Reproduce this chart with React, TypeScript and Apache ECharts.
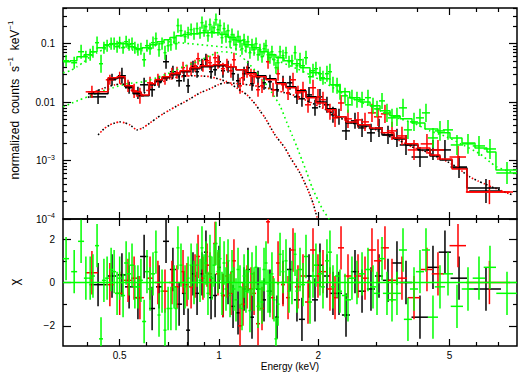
import React, { useEffect, useRef } from 'react';
import * as echarts from 'echarts';

// ---------- axis ranges & ticks ----------
const E_MIN = 0.3367;
const E_MAX = 8.0;
const FLUX_MIN = 1e-4;
const FLUX_MAX = 0.408;
const CHI_MIN = -2.93;
const CHI_MAX = 2.93;

const xMajorTicks = [0.5, 1, 2, 5];
const xMinorTicks = [0.4, 0.6, 0.7, 0.8, 0.9, 3, 4, 6, 7];
const fluxMajorTicks = [1e-4, 1e-3, 0.01, 0.1];
const fluxMinorTicks = [2e-4, 3e-4, 4e-4, 5e-4, 6e-4, 7e-4, 8e-4, 9e-4, 2e-3, 3e-3, 4e-3, 5e-3, 6e-3, 7e-3, 8e-3, 9e-3, 0.02, 0.03, 0.04, 0.05, 0.06, 0.07, 0.08, 0.09, 0.2, 0.3, 0.4];
const chiMajorTicks = [-2, 0, 2];
const chiMinorTicks = [-1, 1];

// ---------- green data set (pn) ----------
const pnE = [0.344, 0.364, 0.382, 0.395, 0.407, 0.415, 0.427, 0.439, 0.448, 0.458,
  0.471, 0.481, 0.491, 0.5, 0.512, 0.523, 0.534, 0.545, 0.556, 0.568,
  0.58, 0.593, 0.605, 0.618, 0.631, 0.644, 0.658, 0.672, 0.686, 0.701,
  0.715, 0.731, 0.741, 0.751, 0.767, 0.789, 0.806, 0.823, 0.84, 0.858,
  0.876, 0.888, 0.901, 0.913, 0.926, 0.939, 0.952, 0.966, 0.979, 0.993,
  1.007, 1.021, 1.036, 1.05, 1.065, 1.08, 1.095, 1.11, 1.126, 1.142,
  1.158, 1.174, 1.191, 1.207, 1.224, 1.241, 1.259, 1.277, 1.295, 1.313,
  1.331, 1.35, 1.369, 1.388, 1.408, 1.427, 1.447, 1.468, 1.488, 1.51,
  1.531, 1.563, 1.596, 1.63, 1.664, 1.7, 1.723, 1.76, 1.797, 1.835,
  1.887, 1.927, 1.967, 2.023, 2.066, 2.124, 2.169, 2.215, 2.279, 2.326,
  2.409, 2.46, 2.529, 2.619, 2.713, 2.828, 2.929, 3.012, 3.119, 3.229,
  3.344, 3.462, 3.611, 3.738, 3.899, 4.065, 4.239, 4.451, 4.674, 4.943,
  5.263, 5.683, 6.136, 6.625, 7.461];
const pnDE = [0.0072, 0.0076, 0.008, 0.0055, 0.0057, 0.0058, 0.006, 0.0061, 0.0063, 0.0064,
  0.0066, 0.0067, 0.0069, 0.007, 0.0072, 0.0073, 0.0075, 0.0076, 0.0078, 0.008,
  0.0081, 0.0083, 0.0085, 0.0087, 0.0088, 0.0068, 0.0069, 0.0071, 0.0072, 0.0074,
  0.0075, 0.0077, 0.0078, 0.0079, 0.0081, 0.0083, 0.0085, 0.0086, 0.0088, 0.009,
  0.0092, 0.0093, 0.0095, 0.0096, 0.0097, 0.0099, 0.01, 0.0101, 0.0103, 0.0104,
  0.0106, 0.0107, 0.0109, 0.011, 0.0112, 0.0113, 0.0115, 0.0117, 0.0118, 0.012,
  0.0122, 0.0123, 0.0125, 0.0127, 0.0129, 0.013, 0.0132, 0.0134, 0.0136, 0.0138,
  0.014, 0.0142, 0.0144, 0.0146, 0.0148, 0.015, 0.0152, 0.0154, 0.0156, 0.0159,
  0.0161, 0.0164, 0.0168, 0.0171, 0.0175, 0.0178, 0.0181, 0.0246, 0.0252, 0.0257,
  0.0264, 0.027, 0.0275, 0.0283, 0.0289, 0.0297, 0.0304, 0.031, 0.0319, 0.0326,
  0.0506, 0.0517, 0.0531, 0.055, 0.057, 0.0594, 0.0615, 0.0633, 0.0655, 0.0904,
  0.0936, 0.0969, 0.101, 0.105, 0.109, 0.114, 0.119, 0.158, 0.166, 0.175,
  0.225, 0.243, 0.263, 0.284, 0.537];
const pnFlux = [0.0511, 0.0472, 0.0729, 0.0598, 0.0648, 0.0729, 0.104, 0.0454, 0.0854, 0.0924,
  0.1, 0.1, 0.0888, 0.104, 0.0854, 0.108, 0.0961, 0.1, 0.0854, 0.0789,
  0.0821, 0.0531, 0.0924, 0.0821, 0.104, 0.122, 0.0789, 0.1, 0.0701, 0.0924,
  0.0961, 0.127, 0.1, 0.204, 0.167, 0.132, 0.154, 0.174, 0.148, 0.181,
  0.154, 0.229, 0.167, 0.196, 0.137, 0.212, 0.161, 0.188, 0.258, 0.174,
  0.204, 0.127, 0.181, 0.132, 0.167, 0.108, 0.143, 0.117, 0.0961, 0.132,
  0.108, 0.0821, 0.117, 0.0888, 0.108, 0.0701, 0.0961, 0.0789, 0.1, 0.0648,
  0.0789, 0.0598, 0.0821, 0.0924, 0.0648, 0.0575, 0.0729, 0.0531, 0.0388, 0.0472,
  0.0729, 0.0623, 0.0701, 0.0491, 0.0511, 0.0701, 0.0419, 0.0531, 0.0419, 0.0575,
  0.0272, 0.0344, 0.0373, 0.0306, 0.0261, 0.0306, 0.0331, 0.0198, 0.019, 0.015,
  0.0128, 0.009, 0.0119, 0.011, 0.011, 0.0119, 0.00864, 0.00767, 0.0105, 0.00655,
  0.00538, 0.00559, 0.00798, 0.00335, 0.00459, 0.00538, 0.00655, 0.00244, 0.00322, 0.00335,
  0.00185, 0.00193, 0.00178, 0.00158, 0.000613];
const pnRelErr = [0.27, 0.27, 0.32, 0.27, 0.27, 0.27, 0.27, 0.43, 0.27, 0.27,
  0.27, 0.27, 0.27, 0.27, 0.27, 0.27, 0.27, 0.27, 0.27, 0.27,
  0.27, 0.32, 0.27, 0.27, 0.27, 0.27, 0.32, 0.27, 0.32, 0.27,
  0.27, 0.27, 0.27, 0.32, 0.27, 0.27, 0.27, 0.27, 0.27, 0.27,
  0.27, 0.27, 0.27, 0.27, 0.27, 0.27, 0.27, 0.27, 0.27, 0.27,
  0.27, 0.27, 0.27, 0.27, 0.27, 0.27, 0.27, 0.27, 0.27, 0.27,
  0.27, 0.27, 0.27, 0.27, 0.27, 0.27, 0.27, 0.27, 0.27, 0.27,
  0.27, 0.27, 0.27, 0.27, 0.27, 0.27, 0.27, 0.27, 0.27, 0.32,
  0.27, 0.27, 0.27, 0.27, 0.27, 0.32, 0.32, 0.32, 0.32, 0.32,
  0.32, 0.32, 0.32, 0.32, 0.32, 0.37, 0.37, 0.37, 0.37, 0.37,
  0.37, 0.37, 0.37, 0.37, 0.37, 0.37, 0.37, 0.37, 0.37, 0.43,
  0.43, 0.43, 0.43, 0.43, 0.43, 0.43, 0.43, 0.48, 0.48, 0.48,
  0.48, 0.48, 0.48, 0.48, 0.54];
const pnChi = [1.1, 0.5, 1.9, 0.2, 0.2, 0.3, 1.7, -2.6, 0.1, 0.2,
  0.6, 0.5, -0.5, 0.2, -0.6, 0.9, 0.4, 0.8, -0.2, -0.2,
  0.1, -1.8, 0.5, -0.3, 0.4, 1.4, -1.5, -0.4, -2.2, -1.2,
  -1.2, -0.2, -1.2, 1.6, 0.8, -0.2, 0.2, 0.8, 0.0, 0.8,
  0.1, 1.6, 0.3, 0.9, -0.5, 1.2, 0.2, 0.8, 1.8, 0.5,
  1.1, -0.5, 0.9, -0.3, 1.0, -0.6, 0.5, -0.3, -0.8, 0.6,
  -0.2, -1.2, 0.3, -0.4, 0.5, -1.3, 0.4, -0.3, 0.7, -1.1,
  -0.3, -0.9, 0.6, 0.9, -0.4, -0.6, 0.4, -0.8, -2.6, -1.0,
  1.3, 0.5, 1.0, -0.4, 0.0, 1.3, -0.4, 0.6, -0.1, 1.2,
  -0.9, 0.3, 0.8, 0.4, -0.2, 1.0, 1.4, -0.2, 0.3, -0.4,
  -0.6, -0.8, 0.2, 0.0, 0.4, 0.6, -0.2, -0.5, 1.1, -0.5,
  -0.8, -0.5, 1.5, -1.7, -0.3, 0.5, 1.5, -1.6, -0.2, 0.4,
  -1.1, -0.3, 0.2, 0.7, -0.5];
const pnModelEdges = [0.337, 0.354, 0.371, 0.39, 0.407, 0.427, 0.448, 0.474, 0.5, 0.53,
  0.556, 0.584, 0.618, 0.649, 0.681, 0.71, 0.741, 0.778, 0.817, 0.876,
  0.939, 1.007, 1.065, 1.126, 1.191, 1.259, 1.331, 1.408, 1.488, 1.574,
  1.664, 1.76, 1.887, 2.023, 2.169, 2.326, 2.49, 2.675, 2.869, 3.076,
  3.298, 3.536, 3.845, 4.209, 4.609, 5.012, 5.45, 5.967, 6.488, 6.908, 8.0];
const pnModel = [0.0491, 0.0511, 0.0598, 0.0648, 0.0729, 0.0854, 0.0961, 0.1, 0.1, 0.0888,
  0.0821, 0.0854, 0.0961, 0.108, 0.117, 0.127, 0.137, 0.143, 0.148, 0.154,
  0.154, 0.143, 0.127, 0.113, 0.0961, 0.0854, 0.0729, 0.0648, 0.0575, 0.0511,
  0.0454, 0.0388, 0.0318, 0.0251, 0.0198, 0.015, 0.0119, 0.01, 0.00864, 0.0071,
  0.00582, 0.00517, 0.00441, 0.00348, 0.00298, 0.00244, 0.002, 0.00164, 0.0014, 0.00069];
const pnHardE = [0.337, 0.354, 0.371, 0.39, 0.407, 0.427, 0.445, 0.467, 0.491, 0.508,
  0.526, 0.545, 0.564, 0.584, 0.605, 0.627, 0.649, 0.677, 0.71, 0.762,
  0.817, 0.876, 0.939, 1.007, 1.08, 1.158, 1.241, 1.359, 1.531, 1.723,
  2.023, 2.326, 2.547, 2.809, 3.076, 3.462, 3.872, 4.359, 4.909, 5.488,
  6.179, 6.625, 6.956, 7.356, 8.0];
const pnHard = [0.0318, 0.0344, 0.0403, 0.0491, 0.0598, 0.0701, 0.0789, 0.0888, 0.0924, 0.0888,
  0.0854, 0.0789, 0.0729, 0.0759, 0.0789, 0.0854, 0.0961, 0.104, 0.108, 0.104,
  0.1, 0.0961, 0.0924, 0.0888, 0.0854, 0.0789, 0.0729, 0.0623, 0.0491, 0.0373,
  0.0241, 0.015, 0.0114, 0.00901, 0.0071, 0.00538, 0.00441, 0.00322, 0.00254, 0.00185,
  0.0013, 0.000946, 0.000776, 0.00069, 0.000589];
const pnSoftE = [0.337, 0.354, 0.379, 0.407, 0.436, 0.477, 0.526, 0.589, 0.649, 0.71,
  0.778, 0.858, 0.939, 1.021, 1.095, 1.158, 1.216, 1.313, 1.379, 1.447,
  1.531, 1.607, 1.664, 1.723, 1.784, 1.848, 1.913, 1.995, 2.066, 2.154, 2.247];
const pnSoft = [0.0083, 0.00935, 0.011, 0.0128, 0.015, 0.0176, 0.0206, 0.0223, 0.0261, 0.0318,
  0.0403, 0.0491, 0.0623, 0.0729, 0.0701, 0.0623, 0.0491, 0.0306, 0.0214, 0.0144,
  0.00864, 0.00441, 0.00275, 0.00171, 0.00102, 0.000613, 0.000352, 0.000211, 0.000142, 0.0001, 0.0000596];

// ---------- black data set (MOS1) ----------
const mos1E = [0.43, 0.474, 0.508, 0.534, 0.568, 0.593, 0.627, 0.658, 0.691, 0.725,
  0.757, 0.783, 0.806, 0.834, 0.858, 0.888, 0.913, 0.946, 0.973, 1.0,
  1.028, 1.065, 1.103, 1.142, 1.191, 1.224, 1.259, 1.313, 1.369, 1.427,
  1.499, 1.563, 1.641, 1.723, 1.784, 1.874, 1.954, 2.023, 2.124, 2.215,
  2.31, 2.426, 2.583, 2.713, 2.888, 3.054, 3.252, 3.462, 3.687, 4.065,
  4.451, 4.839, 5.338, 6.443];
const mos1DE = [0.0247, 0.0133, 0.0142, 0.015, 0.0159, 0.0166, 0.0132, 0.0138, 0.0145, 0.0152,
  0.0159, 0.011, 0.0113, 0.0117, 0.012, 0.0124, 0.0128, 0.0132, 0.0136, 0.014,
  0.0144, 0.0149, 0.0154, 0.016, 0.0167, 0.0171, 0.0176, 0.0184, 0.0192, 0.02,
  0.021, 0.0219, 0.0345, 0.0362, 0.0375, 0.0394, 0.041, 0.0425, 0.0446, 0.0465,
  0.0485, 0.0679, 0.0723, 0.076, 0.0809, 0.0855, 0.115, 0.123, 0.158, 0.233,
  0.19, 0.207, 0.306, 0.71];
const mos1Flux = [0.0123, 0.0241, 0.0283, 0.0176, 0.0144, 0.0198, 0.0163, 0.0223, 0.0491, 0.0331,
  0.0232, 0.0283, 0.019, 0.0403, 0.0331, 0.0436, 0.0531, 0.0331, 0.0358, 0.0491,
  0.0344, 0.0403, 0.0306, 0.0232, 0.0306, 0.0388, 0.0206, 0.0261, 0.0214, 0.0223,
  0.0163, 0.0214, 0.0214, 0.0123, 0.0114, 0.0133, 0.00798, 0.0123, 0.009, 0.00606,
  0.0056, 0.00322, 0.00478, 0.00362, 0.00298, 0.00362, 0.00275, 0.00244, 0.00185, 0.00115,
  0.00152, 0.00152, 0.000776, 0.000301];
const mos1RelErr = [0.32, 0.27, 0.37, 0.27, 0.27, 0.32, 0.32, 0.27, 0.32, 0.27,
  0.27, 0.27, 0.32, 0.27, 0.27, 0.27, 0.27, 0.32, 0.27, 0.27,
  0.32, 0.27, 0.32, 0.32, 0.32, 0.32, 0.32, 0.32, 0.32, 0.32,
  0.32, 0.32, 0.32, 0.32, 0.37, 0.37, 0.37, 0.37, 0.37, 0.37,
  0.37, 0.43, 0.37, 0.43, 0.43, 0.43, 0.43, 0.43, 0.48, 0.48,
  0.48, 0.48, 0.54, 0.61];
const mos1Chi = [-0.1, 0.3, 0.35, -0.2, -0.7, 1.2, -1.2, -0.2, 1.9, 0.6,
  -1.0, -0.5, -2.2, 0.4, -0.5, 0.4, 1.4, -0.7, -0.6, 0.7,
  -0.6, 0.0, -1.1, -1.4, -0.3, 0.6, -1.6, -0.3, -0.8, -0.4,
  -1.6, 0.0, 0.6, -0.8, -1.7, 0.3, -0.8, 0.8, 0.3, -0.5,
  -0.5, -1.5, 0.5, -0.4, -0.3, 0.3, 0.1, 0.9, 0.0, -1.6,
  0.7, 1.4, 0.2, -0.3];
const mos1ModelEdges = [0.401, 0.461, 0.491, 0.519, 0.549, 0.58, 0.614, 0.64, 0.672, 0.71,
  0.762, 0.817, 0.876, 0.959, 1.05, 1.126, 1.207, 1.295, 1.388, 1.488,
  1.596, 1.711, 1.835, 1.967, 2.11, 2.262, 2.426, 2.638, 2.869, 3.119,
  3.391, 3.687, 4.009, 4.359, 4.674, 5.083, 5.643, 7.104];
const mos1Model = [0.0139, 0.0251, 0.0261, 0.0183, 0.0139, 0.0128, 0.0198, 0.0232, 0.0261, 0.0294,
  0.0331, 0.0373, 0.0403, 0.0419, 0.0403, 0.0358, 0.0318, 0.0283, 0.0251, 0.0214,
  0.0183, 0.0156, 0.0123, 0.01, 0.00768, 0.0056, 0.0044, 0.00392, 0.00348, 0.00275,
  0.00235, 0.00185, 0.00152, 0.0012, 0.00102, 0.000747, 0.000339];

// ---------- red data set (MOS2) ----------
const mos2E = [0.412, 0.467, 0.5, 0.53, 0.553, 0.576, 0.618, 0.653, 0.686, 0.72,
  0.746, 0.778, 0.8, 0.823, 0.846, 0.864, 0.894, 0.92, 0.939, 0.973,
  0.993, 1.028, 1.057, 1.087, 1.11, 1.158, 1.182, 1.216, 1.25, 1.277,
  1.313, 1.35, 1.408, 1.458, 1.51, 1.563, 1.619, 1.676, 1.735, 1.797,
  1.861, 1.927, 1.995, 2.066, 2.169, 2.247, 2.343, 2.46, 2.638, 2.77,
  2.908, 3.033, 3.184, 3.344, 3.585, 3.899, 4.268, 4.609, 5.3, 6.6];
const mos2DE = [0.0176, 0.0131, 0.014, 0.0148, 0.0116, 0.0161, 0.013, 0.0137, 0.0144, 0.0151,
  0.0104, 0.0109, 0.0112, 0.0115, 0.0118, 0.0121, 0.0125, 0.0129, 0.0131, 0.0136,
  0.0139, 0.0144, 0.0148, 0.0152, 0.0155, 0.0162, 0.0165, 0.017, 0.0175, 0.0179,
  0.0184, 0.0189, 0.0197, 0.0204, 0.0211, 0.0219, 0.0227, 0.0352, 0.0364, 0.0377,
  0.0391, 0.0405, 0.0419, 0.0434, 0.0455, 0.0472, 0.0492, 0.0689, 0.0739, 0.0776,
  0.0814, 0.0849, 0.0892, 0.119, 0.127, 0.167, 0.183, 0.197, 0.304, 1.0];
const mos2Flux = [0.015, 0.0241, 0.0261, 0.019, 0.0156, 0.0128, 0.0214, 0.0241, 0.0251, 0.0306,
  0.0318, 0.0388, 0.0344, 0.0373, 0.0419, 0.0553, 0.0419, 0.0511, 0.0472, 0.0575,
  0.0491, 0.0373, 0.0436, 0.0344, 0.0531, 0.019, 0.0261, 0.0331, 0.0283, 0.0272,
  0.0163, 0.019, 0.0491, 0.0163, 0.0306, 0.0198, 0.0144, 0.0241, 0.0144, 0.0163,
  0.009, 0.0176, 0.0123, 0.011, 0.00682, 0.00538, 0.00967, 0.00517, 0.00497, 0.00459,
  0.00655, 0.0056, 0.0063, 0.00322, 0.00264, 0.00152, 0.00193, 0.00152, 0.00115, 0.000289];
const mos2RelErr = [0.27, 0.22, 0.27, 0.27, 0.32, 0.37, 0.27, 0.27, 0.27, 0.27,
  0.27, 0.27, 0.27, 0.32, 0.27, 0.27, 0.27, 0.27, 0.32, 0.27,
  0.32, 0.27, 0.27, 0.32, 0.32, 0.37, 0.32, 0.27, 0.32, 0.32,
  0.32, 0.32, 0.32, 0.32, 0.32, 0.32, 0.32, 0.32, 0.32, 0.37,
  0.37, 0.37, 0.37, 0.37, 0.37, 0.43, 0.37, 0.43, 0.37, 0.43,
  0.43, 0.43, 0.43, 0.43, 0.43, 0.48, 0.48, 0.48, 0.54, 0.61];
const mos2Chi = [0.45, -0.1, -0.5, 0.1, 0.2, -0.7, 0.2, 0.0, -0.4, 0.0,
  -0.2, 0.5, -0.1, -0.2, 0.3, 1.2, 0.2, 0.8, 0.4, 1.8,
  0.4, -0.6, 0.3, -0.5, 1.0, -2.0, -1.0, -0.2, -0.3, -0.5,
  -1.9, -1.2, 2.8, -0.7, 0.9, -0.1, -0.7, 1.5, -0.2, 0.3,
  -0.9, 1.5, 0.3, 0.5, -0.3, -0.7, 1.6, 0.3, 0.3, 0.2,
  1.5, 1.0, 1.6, 0.1, 0.2, -0.7, 0.6, 0.4, 1.7, 0.0];
const mos2ModelEdges = [0.401, 0.461, 0.491, 0.519, 0.549, 0.58, 0.614, 0.64, 0.672, 0.71,
  0.762, 0.817, 0.876, 0.959, 1.05, 1.126, 1.207, 1.295, 1.388, 1.488,
  1.596, 1.711, 1.835, 1.967, 2.11, 2.262, 2.426, 2.638, 2.869, 3.119,
  3.391, 3.687, 4.009, 4.359, 4.674, 5.083, 5.643, 7.78];
const mos2Model = [0.015, 0.0261, 0.0272, 0.019, 0.015, 0.0133, 0.0206, 0.0241, 0.0272, 0.0306,
  0.0344, 0.0388, 0.0419, 0.0436, 0.0403, 0.0358, 0.0306, 0.0272, 0.0241, 0.0206,
  0.0176, 0.015, 0.0119, 0.0097, 0.00738, 0.0056, 0.00459, 0.0041, 0.00362, 0.00298,
  0.00244, 0.00193, 0.00164, 0.00125, 0.00106, 0.00072, 0.000289];

// ---------- MOS model components (dotted) ----------
const mosSoftE = [0.401, 0.421, 0.451, 0.484, 0.508, 0.537, 0.576, 0.618, 0.663, 0.71,
  0.762, 0.834, 0.939, 1.057, 1.166, 1.216, 1.286, 1.331, 1.379, 1.478,
  1.585, 1.641, 1.76, 1.861, 1.927, 1.982, 2.051];
const mosSoft = [0.0119, 0.015, 0.0176, 0.0198, 0.0206, 0.0169, 0.0128, 0.0176, 0.0214, 0.0251,
  0.0272, 0.0283, 0.0272, 0.0223, 0.0156, 0.0133, 0.00935, 0.0071, 0.00538, 0.00275,
  0.00164, 0.00115, 0.000613, 0.000313, 0.000187, 0.000108, 0.0000645];
const mosHardE = [0.43, 0.448, 0.467, 0.484, 0.5, 0.519, 0.537, 0.564, 0.588, 0.618,
  0.649, 0.677, 0.71, 0.746, 0.778, 0.817, 0.876, 0.939, 0.993, 1.043,
  1.158, 1.286, 1.427, 1.585, 1.711, 1.887, 2.11, 2.326, 2.529, 2.751,
  2.99, 3.252, 3.536, 3.845, 4.18, 4.513, 4.875, 5.19, 5.49, 5.762,
  6.093, 6.4, 6.72, 7.104, 7.461, 7.78];
const mosHard = [0.00275, 0.00348, 0.00408, 0.00441, 0.00459, 0.00441, 0.00408, 0.00335, 0.00362, 0.00441,
  0.00538, 0.0063, 0.00738, 0.00864, 0.00973, 0.0114, 0.0144, 0.0169, 0.0198, 0.0214,
  0.0206, 0.019, 0.0169, 0.0144, 0.0128, 0.01, 0.00738, 0.00538, 0.00441, 0.00392,
  0.00335, 0.00264, 0.00217, 0.00171, 0.00146, 0.0012, 0.000984, 0.000808, 0.000637, 0.000523,
  0.000447, 0.000397, 0.000352, 0.000313, 0.000278, 0.000257];

// ---------- styling ----------
const BLACK = '#000000';
const RED = '#ff0000';
const GREEN = '#00ff00';
const FONT = '"Liberation Sans", Arial, Helvetica, sans-serif';

const L10 = (v: number) => Math.log10(v);
const X_LO = L10(E_MIN);
const X_HI = L10(E_MAX);
const Y_LO = L10(FLUX_MIN);
const Y_HI = L10(FLUX_MAX);

const fmtEnergy = (v: number) => {
  const e = Math.pow(10, v);
  return e < 0.99 ? e.toFixed(1) : String(Math.round(e));
};
const fmtFlux = (v: number) => {
  const p = Math.round(v);
  if (p === -1) return '0.1';
  if (p === -2) return '0.01';
  return '10{s|\u2212' + -p + '}';
};
const fmtChi = (v: number) => {
  const r = Math.round(v);
  return r < 0 ? '\u2212' + -r : String(r);
};

const labelStyle = { color: '#000', fontSize: 10, fontFamily: FONT };

function makeXAxis(gridIndex: number, position: string, ticks: number[], len: number, labels: boolean) {
  const vals = ticks.map(L10);
  return {
    type: 'value', gridIndex, position, offset: 0, min: X_LO, max: X_HI,
    axisLine: { show: false, onZero: false },
    splitLine: { show: false },
    axisTick: { show: true, inside: true, length: len, customValues: vals, lineStyle: { color: '#000', width: 1.2 } },
    axisLabel: labels
      ? { show: true, customValues: vals, margin: 4, formatter: fmtEnergy, ...labelStyle }
      : { show: false },
  };
}

function makeYAxis(gridIndex: number, position: string, min: number, max: number, tickVals: number[], len: number, labels: any) {
  return {
    type: 'value', gridIndex, position, offset: 0, min, max,
    axisLine: { show: false, onZero: false },
    splitLine: { show: false },
    axisTick: { show: true, inside: true, length: len, customValues: tickVals, lineStyle: { color: '#000', width: 1.2 } },
    axisLabel: labels ? { show: true, customValues: tickVals, margin: 8, ...labelStyle, ...labels } : { show: false },
  };
}

function barRenderer(color: string) {
  return (params: any, api: any) => {
    const cs = params.coordSys;
    const top = cs.y;
    const bot = cs.y + cs.height;
    const left = cs.x;
    const right = cs.x + cs.width;
    const c = api.coord([api.value(0), api.value(1)]);
    const xl = api.coord([api.value(2), api.value(1)])[0];
    const xr = api.coord([api.value(3), api.value(1)])[0];
    const ya = api.coord([api.value(0), api.value(4)])[1];
    const yb = api.coord([api.value(0), api.value(5)])[1];
    const style = { stroke: color, lineWidth: 1.5, fill: null };
    const children: any[] = [];
    if (c[1] >= top && c[1] <= bot) {
      children.push({ type: 'line', shape: { x1: Math.max(xl, left), y1: c[1], x2: Math.min(xr, right), y2: c[1] }, style });
    }
    const y1 = Math.max(Math.min(ya, yb), top);
    const y2 = Math.min(Math.max(ya, yb), bot);
    if (y2 > y1) children.push({ type: 'line', shape: { x1: c[0], y1, x2: c[0], y2 }, style });
    return { type: 'group', children };
  };
}

function dataBars(E: number[], dE: number[], flux: number[], rel: number[], color: string) {
  return {
    type: 'custom', xAxisIndex: 0, yAxisIndex: 0, silent: true,
    data: E.map((e, i) => [L10(e), L10(flux[i]), L10(e - dE[i]), L10(e + dE[i]), L10(flux[i] / (1 + rel[i])), L10(flux[i] * (1 + rel[i]))]),
    encode: { x: [0, 2, 3], y: [1, 4, 5] },
    renderItem: barRenderer(color),
  };
}

function chiBars(E: number[], dE: number[], chi: number[], color: string) {
  return {
    type: 'custom', xAxisIndex: 4, yAxisIndex: 4, silent: true,
    data: E.map((e, i) => [L10(e), chi[i], L10(e - dE[i]), L10(e + dE[i]), chi[i] - 1, chi[i] + 1]),
    encode: { x: [0, 2, 3], y: [1, 4, 5] },
    renderItem: barRenderer(color),
  };
}

function stepModel(edges: number[], vals: number[], color: string) {
  return {
    type: 'line', xAxisIndex: 0, yAxisIndex: 0, silent: true, step: 'end', symbol: 'none', clip: true,
    data: edges.map((e, i) => [L10(e), L10(vals[Math.min(i, vals.length - 1)])]),
    lineStyle: { color, width: 1.5 },
  };
}

function dottedComp(E: number[], V: number[], color: string, dash: number[], offset: number) {
  return {
    type: 'line', xAxisIndex: 0, yAxisIndex: 0, silent: true, symbol: 'none', clip: true, smooth: 0.2,
    data: E.map((e, i) => [L10(e), L10(V[i])]),
    lineStyle: { color, width: 1.6, type: dash, dashOffset: offset, cap: 'butt' },
  };
}

function buildOption() {
  const fluxRich = { s: { fontSize: 7, fontFamily: FONT, color: '#000', padding: [0, 0, 7, 0] } };
  return {
    animation: false,
    backgroundColor: '#ffffff',
    grid: [
      { left: 63, top: 8, width: 454, height: 211, show: true, borderColor: '#000', borderWidth: 1.5, backgroundColor: 'transparent', containLabel: false, outerBoundsMode: 'none' },
      { left: 63, top: 219, width: 454, height: 127, show: true, borderColor: '#000', borderWidth: 1.5, backgroundColor: 'transparent', containLabel: false, outerBoundsMode: 'none' },
    ],
    xAxis: [
      makeXAxis(0, 'bottom', xMajorTicks, 7, false),
      makeXAxis(0, 'bottom', xMinorTicks, 4, false),
      makeXAxis(0, 'top', xMajorTicks, 7, false),
      makeXAxis(0, 'top', xMinorTicks, 4, false),
      makeXAxis(1, 'bottom', xMajorTicks, 7, true),
      makeXAxis(1, 'bottom', xMinorTicks, 4, false),
      makeXAxis(1, 'top', xMajorTicks, 7, false),
      makeXAxis(1, 'top', xMinorTicks, 4, false),
    ],
    yAxis: [
      makeYAxis(0, 'left', Y_LO, Y_HI, fluxMajorTicks.map(L10), 8, { formatter: fmtFlux, rich: fluxRich }),
      makeYAxis(0, 'left', Y_LO, Y_HI, fluxMinorTicks.map(L10), 4, null),
      makeYAxis(0, 'right', Y_LO, Y_HI, fluxMajorTicks.map(L10), 8, null),
      makeYAxis(0, 'right', Y_LO, Y_HI, fluxMinorTicks.map(L10), 4, null),
      makeYAxis(1, 'left', CHI_MIN, CHI_MAX, chiMajorTicks, 8, { formatter: fmtChi }),
      makeYAxis(1, 'left', CHI_MIN, CHI_MAX, chiMinorTicks, 4, null),
      makeYAxis(1, 'right', CHI_MIN, CHI_MAX, chiMajorTicks, 8, null),
      makeYAxis(1, 'right', CHI_MIN, CHI_MAX, chiMinorTicks, 4, null),
    ],
    graphic: [
      {
        type: 'text', x: 15, y: 100, rotation: Math.PI / 2, silent: true,
        style: {
          text: 'normalized  counts  s{s|\u22121}  keV{s|\u22121}',
          fill: '#000', fontSize: 12, fontFamily: FONT, align: 'center', verticalAlign: 'middle',
          rich: { s: { fontSize: 8, fontFamily: FONT, fill: '#000', padding: [0, 0, 9, 0] } },
        },
      },
      {
        type: 'text', x: 14, y: 282, rotation: Math.PI / 2, silent: true,
        style: { text: '\u03c7', fill: '#000', fontSize: 13, fontFamily: FONT, align: 'center', verticalAlign: 'middle' },
      },
      {
        type: 'text', x: 290, y: 366, silent: true,
        style: { text: 'Energy (keV)', fill: '#000', fontSize: 10, fontFamily: FONT, align: 'center', verticalAlign: 'middle' },
      },
    ],
    series: [
      dottedComp(pnHardE, pnHard, GREEN, [1.6, 3.2], 0),
      dottedComp(pnSoftE, pnSoft, GREEN, [1.6, 3.2], 0),
      dottedComp(mosSoftE, mosSoft, BLACK, [1.6, 4.8], 0),
      dottedComp(mosSoftE, mosSoft, RED, [1.6, 4.8], 3.2),
      dottedComp(mosHardE, mosHard, BLACK, [1.6, 4.8], 0),
      dottedComp(mosHardE, mosHard, RED, [1.6, 4.8], 3.2),
      dataBars(mos1E, mos1DE, mos1Flux, mos1RelErr, BLACK),
      dataBars(mos2E, mos2DE, mos2Flux, mos2RelErr, RED),
      dataBars(pnE, pnDE, pnFlux, pnRelErr, GREEN),
      stepModel(mos1ModelEdges, mos1Model, BLACK),
      stepModel(mos2ModelEdges, mos2Model, RED),
      stepModel(pnModelEdges, pnModel, GREEN),
      chiBars(mos1E, mos1DE, mos1Chi, BLACK),
      chiBars(mos2E, mos2DE, mos2Chi, RED),
      chiBars(pnE, pnDE, pnChi, GREEN),
      {
        type: 'line', xAxisIndex: 4, yAxisIndex: 4, silent: true, symbol: 'none',
        data: [[X_LO, 0], [X_HI, 0]],
        lineStyle: { color: GREEN, width: 1.5 },
      },
    ],
  };
}

export default function App() {
  const ref = useRef<HTMLDivElement>(null);
  useEffect(() => {
    if (!ref.current) return;
    const chart = echarts.init(ref.current, null, { renderer: 'svg' });
    chart.setOption(buildOption() as any);
    return () => chart.dispose();
  }, []);
  return (
    <div
      ref={ref}
      style={{ position: 'fixed', left: 0, top: 0, width: 525, height: 374, background: '#fff' }}
    />
  );
}
